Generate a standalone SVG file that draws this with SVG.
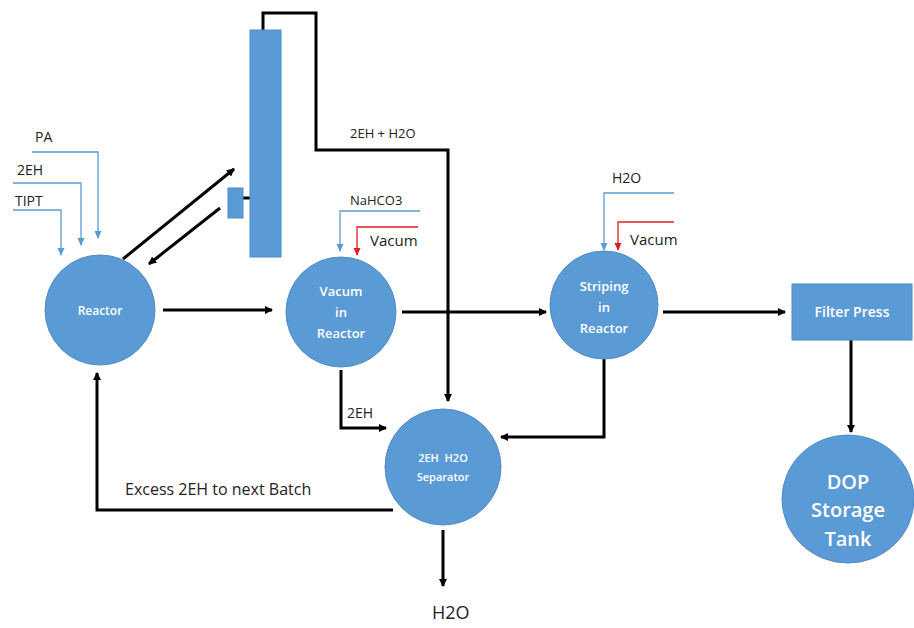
<svg xmlns="http://www.w3.org/2000/svg" width="914" height="628" viewBox="0 0 914 628">
<defs>
<marker id="ab" markerWidth="8" markerHeight="8" refX="7" refY="4" orient="auto" markerUnits="userSpaceOnUse"><path d="M0,0 L8,4 L0,8 Z" fill="#000"/></marker>
<marker id="abl" markerWidth="8" markerHeight="8" refX="7" refY="4" orient="auto" markerUnits="userSpaceOnUse"><path d="M0,0.5 L8,4 L0,7.5 Z" fill="#5B9BD5"/></marker>
<marker id="ar" markerWidth="8" markerHeight="8" refX="7" refY="4" orient="auto" markerUnits="userSpaceOnUse"><path d="M0,0.5 L8,4 L0,7.5 Z" fill="#E02020"/></marker>
<style>
.n{fill:#5B9BD5;stroke:#4F8BC6;stroke-width:1}
.t{fill:#fff;font-family:"Open Sans","Liberation Sans",sans-serif;text-anchor:middle;font-weight:600}
.lb{fill:#222;font-family:"Open Sans","Liberation Sans",sans-serif}
.k{fill:none;stroke:#000;stroke-width:3}
.b{fill:none;stroke:#5B9BD5;stroke-width:1.3}
.r{fill:none;stroke:#E02020;stroke-width:1.3}
</style>
</defs>
<rect width="914" height="628" fill="#fff"/>
<g id="connectors">
<path class="b" d="M32,152 H98 V238" marker-end="url(#abl)"/>
<path class="b" d="M13,183 H81 V245" marker-end="url(#abl)"/>
<path class="b" d="M13,210 H61 V255" marker-end="url(#abl)"/>
<path class="k" d="M123,259 L234,169" marker-end="url(#ab)"/>
<path class="k" d="M220,208 L149,264" marker-end="url(#ab)"/>
<path class="k" d="M163,310 H272" marker-end="url(#ab)"/>
<path class="k" d="M243,198 H251"/>
<path class="k" d="M263,30 V13 H316 V150 H448 V401" marker-end="url(#ab)"/>
<path class="b" d="M420,211 H340 V251" marker-end="url(#abl)"/>
<path class="r" d="M418,227 H357 V255" marker-end="url(#ar)"/>
<path class="k" d="M402,312 H546" marker-end="url(#ab)"/>
<path class="b" d="M674,193 H604 V250" marker-end="url(#abl)"/>
<path class="r" d="M674,222 H618 V250" marker-end="url(#ar)"/>
<path class="k" d="M663,312 H785" marker-end="url(#ab)"/>
<path class="k" d="M851,340 V432" marker-end="url(#ab)"/>
<path class="k" d="M341,370 V428 H386" marker-end="url(#ab)"/>
<path class="k" d="M604,358 V437 H501" marker-end="url(#ab)"/>
<path class="k" d="M393,510 H97 V373" marker-end="url(#ab)"/>
<path class="k" d="M443,530 V586" marker-end="url(#ab)"/>
</g>
<g id="labels">
<text class="lb" x="35" y="142" font-size="14">PA</text>
<text class="lb" x="17" y="175" font-size="14">2EH</text>
<text class="lb" x="15" y="206" font-size="14">TIPT</text>
<text class="lb" x="350" y="138" font-size="13">2EH + H2O</text>
<text class="lb" x="350" y="205" font-size="13">NaHCO3</text>
<text class="lb" x="370" y="246" font-size="15">Vacum</text>
<text class="lb" x="612" y="183" font-size="14">H2O</text>
<text class="lb" x="630" y="245" font-size="15">Vacum</text>
<text class="lb" x="347" y="418" font-size="14">2EH</text>
<text class="lb" x="125" y="495" font-size="16">Excess 2EH to next Batch</text>
<text class="lb" x="432" y="619" font-size="18">H2O</text>
</g>
<g id="reactor"><circle class="n" cx="100" cy="310" r="55"/><text class="t" x="100" y="315" font-size="12">Reactor</text></g>
<g id="column"><rect class="n" x="250" y="30" width="31" height="227"/><rect class="n" x="228" y="188" width="15" height="30"/></g>
<g id="vacum"><circle class="n" cx="341" cy="312" r="55"/><text class="t" x="341" y="296" font-size="13">Vacum</text><text class="t" x="341" y="317" font-size="13">in</text><text class="t" x="341" y="338" font-size="13">Reactor</text></g>
<g id="striping"><circle class="n" cx="604" cy="305" r="54"/><text class="t" x="604" y="291" font-size="13">Striping</text><text class="t" x="604" y="312" font-size="13">in</text><text class="t" x="604" y="333" font-size="13">Reactor</text></g>
<g id="separator"><circle class="n" cx="443" cy="467" r="58"/><text class="t" x="443" y="462" font-size="11" font-weight="bold">2EH&#160;&#160;H2O</text><text class="t" x="443" y="481" font-size="11" font-weight="bold">Separator</text></g>
<g id="filter"><rect class="n" x="792" y="284" width="120" height="56"/><text class="t" x="852" y="317" font-size="14" font-weight="bold">Filter Press</text></g>
<g id="dop"><ellipse class="n" cx="848" cy="499" rx="66" ry="64"/><text class="t" x="848" y="489" font-size="20" font-weight="normal">DOP</text><text class="t" x="848" y="517" font-size="20" font-weight="normal">Storage</text><text class="t" x="848" y="546" font-size="20" font-weight="normal">Tank</text></g>
</svg>
